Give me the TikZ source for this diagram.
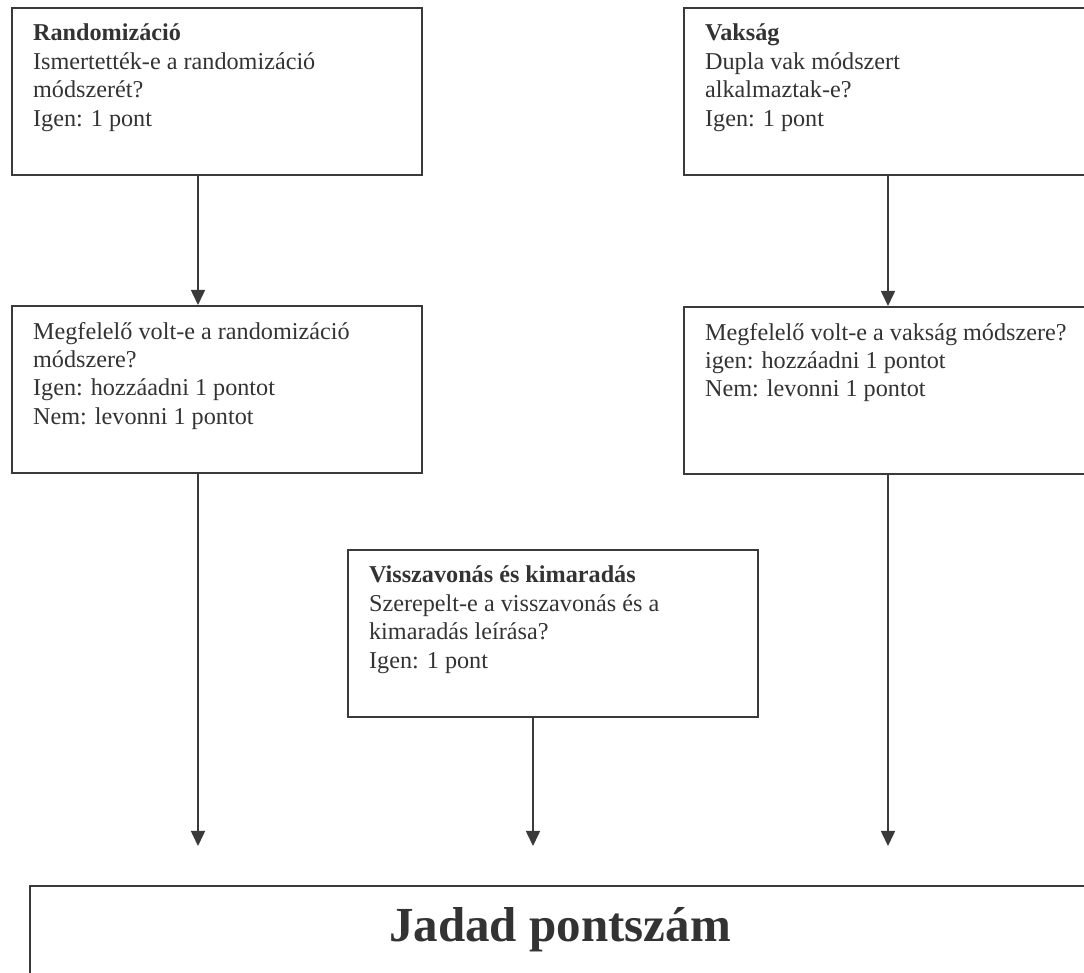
\documentclass[tikz,border=0pt]{standalone}
\usepackage{fontspec}
\setmainfont{Liberation Serif}
\usepackage{tikz}
\usetikzlibrary{positioning,arrows.meta,calc}
\definecolor{ink}{HTML}{333333}
\definecolor{rule}{HTML}{3A3A3A}
\newcommand{\boxtext}[1]{\parbox[c][83.5pt][t]{184pt}{\raggedright\vspace*{8pt}#1}}
\tikzset{
  crit/.style ={rectangle, draw=rule, line width=1.1pt, text=ink,
                anchor=north west, inner xsep=10.5pt, inner ysep=0pt,
                font=\fontsize{12.1pt}{14.2pt}\selectfont},
  total/.style={crit, inner xsep=0pt},
  fl/.style   ={-{Triangle[length=7.5pt,width=7pt]}, line width=0.8pt, draw=rule}
}
\begin{document}
\begin{tikzpicture}[x=0.5pt,y=-0.5pt]
  \useasboundingbox (0,0) rectangle (1084,973);
  \clip (0,0) rectangle (1084,973);
  \node[crit] (rand) at (11,7) {\boxtext{\textbf{Randomizáció}\\
    Ismertették-e a randomizáció\\ módszerét?\\ Igen: 1 pont}};
  \node[crit] (blind) at (683,7) {\boxtext{\textbf{Vakság}\\
    Dupla vak módszert\\ alkalmaztak-e?\\ Igen: 1 pont}};
  \node[crit] (randok) at (11,305) {\boxtext{Megfelelő volt-e a randomizáció\\
    módszere?\\ Igen: hozzáadni 1 pontot\\ Nem: levonni 1 pontot}};
  \node[crit] (blindok) at (683,306) {\boxtext{Megfelelő volt-e a vakság módszere?\\
    igen: hozzáadni 1 pontot\\ Nem: levonni 1 pontot}};
  \node[crit] (drop) at (347,549) {\boxtext{\textbf{Visszavonás és kimaradás}\\
    Szerepelt-e a visszavonás és a\\ kimaradás leírása?\\ Igen: 1 pont}};
  \node[total] (jadad) at (29,885) {\parbox[c][75pt][t]{530pt}{\centering
    \vspace*{10.5pt}\fontsize{24.5pt}{28pt}\selectfont\bfseries Jadad pontszám}};
  \coordinate (e1) at (198,846);
  \coordinate (e2) at (533,846);
  \coordinate (e3) at (888,846);
  \draw[fl] (e1 |- rand.south) -- (e1 |- randok.north);
  \draw[fl] (e3 |- blind.south) -- (e3 |- blindok.north);
  \draw[fl] (e1 |- randok.south) -- (e1);
  \draw[fl] (e2 |- drop.south) -- (e2);
  \draw[fl] (e3 |- blindok.south) -- (e3);
\end{tikzpicture}
\end{document}
